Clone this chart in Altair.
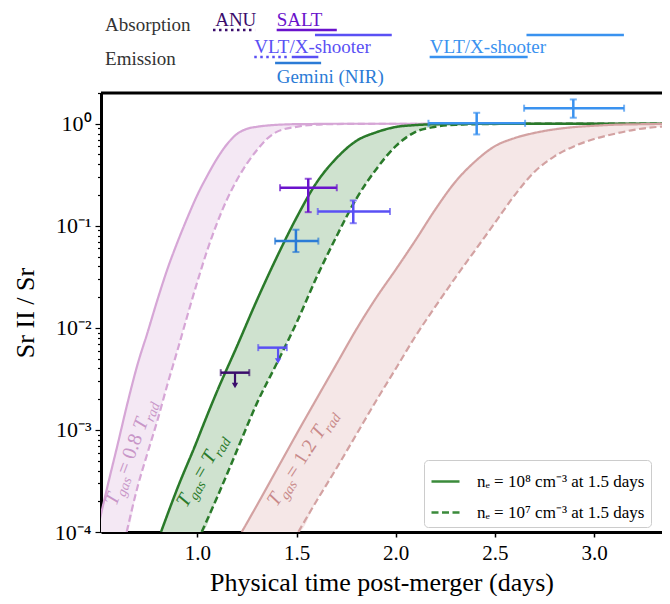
import altair as alt
import pandas as pd

FONT = "Liberation Serif"

# ---------------- axes ----------------
XMIN, XMAX = 0.5146, 3.342
YMIN, YMAX = 1e-4, 2.0
W, H = 561, 439
XTICKS = [1.0, 1.5, 2.0, 2.5, 3.0]
YTICKS = [1e-4, 2e-4, 3e-4, 4e-4, 5e-4, 6e-4, 7e-4, 8e-4, 9e-4,
          1e-3, 2e-3, 3e-3, 4e-3, 5e-3, 6e-3, 7e-3, 8e-3, 9e-3,
          1e-2, 2e-2, 3e-2, 4e-2, 5e-2, 6e-2, 7e-2, 8e-2, 9e-2,
          0.1, 0.2, 0.3, 0.4, 0.5, 0.6, 0.7, 0.8, 0.9, 1.0, 2.0]
YLABELS = {1.0: "10⁰", 0.1: "10⁻¹", 0.01: "10⁻²", 0.001: "10⁻³", 0.0001: "10⁻⁴"}

# ---------------- model bands (days, Sr II / Sr) ----------------
pink_x = [0.50, 0.55, 0.60, 0.644, 0.70, 0.75, 0.80, 0.85, 0.90, 0.95, 1.00, 1.05,
          1.10, 1.15, 1.20, 1.25, 1.30, 1.35, 1.40, 1.50, 1.60, 1.70, 2.00, 3.60]
pink_hi = [1.12e-4, 2.95e-4, 7.41e-4, 1.70e-3, 4.47e-3, 9.12e-3, 1.91e-2, 3.80e-2, 6.92e-2, 0.120, 0.200, 0.309,
           0.457, 0.631, 0.794, 0.891, 0.933, 0.959, 0.975, 0.991, 0.995, 1.0, 1.0, 1.0]
pink_lo = [None, None, None, 1.0e-4, 2.82e-4, 6.03e-4, 1.26e-3, 2.82e-3, 6.03e-3, 1.32e-2, 2.82e-2, 5.75e-2,
           0.107, 0.182, 0.282, 0.407, 0.550, 0.708, 0.832, 0.933, 0.980, 0.993, 1.0, 1.0]

green_x = [0.817, 0.90, 1.00, 1.022, 1.10, 1.20, 1.30, 1.40, 1.50, 1.60, 1.70,
           1.80, 1.90, 2.00, 2.10, 2.20, 2.30, 2.40, 2.60, 3.00, 3.60]
green_hi = [1.0e-4, 2.69e-4, 7.94e-4, 1.02e-3, 2.40e-3, 6.61e-3, 1.86e-2, 4.90e-2, 0.120, 0.263, 0.457,
            0.676, 0.822, 0.929, 0.970, 0.989, 0.995, 0.998, 1.0, 1.0, 1.0]
green_lo = [None, None, None, 1.0e-4, 2.19e-4, 6.31e-4, 1.82e-3, 4.47e-3, 1.12e-2, 3.09e-2, 7.76e-2,
            0.182, 0.355, 0.603, 0.832, 0.933, 0.977, 0.991, 0.998, 1.0, 1.0]

rose_x = [1.224, 1.30, 1.40, 1.509, 1.60, 1.70, 1.80, 1.90, 2.00, 2.10, 2.20, 2.30,
          2.40, 2.50, 2.60, 2.70, 2.80, 2.90, 3.00, 3.10, 3.20, 3.30, 3.40, 3.60]
rose_hi = [1.0e-4, 1.82e-4, 4.07e-4, 9.77e-4, 2.00e-3, 4.37e-3, 9.55e-3, 1.95e-2, 3.72e-2, 7.24e-2, 0.145, 0.269,
           0.427, 0.603, 0.724, 0.813, 0.881, 0.927, 0.955, 0.977, 0.986, 0.993, 0.998, 1.0]
rose_lo = [None, None, None, 1.0e-4, 2.00e-4, 4.17e-4, 8.91e-4, 1.91e-3, 3.98e-3, 8.32e-3, 1.62e-2, 3.09e-2,
           5.75e-2, 0.107, 0.200, 0.339, 0.479, 0.603, 0.708, 0.794, 0.871, 0.923, 0.951, 0.977]

L8 = "nₑ = 10⁸ cm⁻³ at 1.5 days"
L7 = "nₑ = 10⁷ cm⁻³ at 1.5 days"

# ---------------- measurements ----------------
KEYS = ["ANU", "SALT", "VLT early", "Gemini", "VLT late"]
KEY_COLORS = ["#3b0d6c", "#6a12cc", "#5a50f4", "#2b7bd6", "#3a92ef"]

det_key = ["SALT", "VLT early", "Gemini", "VLT late", "VLT late"]
det_x = [1.559, 1.786, 1.497, 2.408, 2.895]
det_xlo = [1.417, 1.607, 1.392, 2.165, 2.647]
det_xhi = [1.703, 1.971, 1.610, 2.652, 3.151]
det_y = [0.236, 0.138, 0.0708, 1.01, 1.42]
det_ylo = [0.136, 0.106, 0.0553, 0.785, 1.145]
det_yhi = [0.289, 0.177, 0.0916, 1.28, 1.73]

ul_key = ["ANU", "VLT early"]
ul_x = [1.190, 1.407]
ul_xlo = [1.118, 1.307]
ul_xhi = [1.262, 1.451]
ul_y = [3.64e-3, 6.4e-3]
ul_tip = [2.73e-3, 4.73e-3]

# coverage segments above the plot
seg_key = ["ANU", "SALT", "VLT early", "VLT late", "VLT early", "VLT early", "VLT late", "Gemini"]
seg_row = ["abs1", "abs1", "abs2", "abs2", "em1", "em1", "em1", "em2"]
seg_x0 = [1.079, 1.400, 1.593, 2.659, 1.287, 1.476, 2.171, 1.392]
seg_x1 = [1.291, 1.703, 1.980, 3.150, 1.467, 1.610, 2.665, 1.624]
seg_dotted = [True, False, False, False, True, False, False, False]

lab_text = ["ANU", "SALT", "VLT/X-shooter", "VLT/X-shooter", "Gemini (NIR)"]
lab_key = ["ANU", "SALT", "VLT early", "VLT late", "Gemini"]
lab_x = [1.090, 1.400, 1.287, 2.171, 1.400]
lab_row = ["t1", "t1", "t2", "t2", "t3"]

head_text = ["Absorption", "Emission"]
head_x = [0.535, 0.535]
head_row = ["h1", "h2"]

# ---------------- styles ----------------
ROW_Y = {"abs1": -63, "abs2": -58, "em1": -36, "em2": -30,
         "t1": -67, "t2": -40, "t3": -10, "h1": -62, "h2": -28}
BAND_LINE = {"pink": "#d6a6d6", "green": "#2a7a2a", "rose": "#d3a2a2"}
BAND_FILL = {"pink": "#f4e8f4", "green": "#cfe2cf", "rose": "#f5e7e7"}
BAND_W = {"pink": 2.2, "green": 2.5, "rose": 2.2}

xs = alt.Scale(domain=[XMIN, XMAX], nice=False, zero=False)
ys = alt.Scale(type="log", domain=[YMIN, YMAX], nice=False)

label_expr = " : ".join(
    f"abs(datum.value - {v}) < {v * 1e-6} ? '{t}'" for v, t in YLABELS.items()
) + " : ''"
decade_test = "abs(log(datum.value) / LN10 - round(log(datum.value) / LN10)) < 0.001"

x_axis = alt.Axis(values=XTICKS, format=".1f", tickSize=5, tickWidth=1.5, domainWidth=3,
                  labelFontSize=21, labelPadding=5, titleFontSize=26, titlePadding=6,
                  labelFlush=False)
y_axis = alt.Axis(values=YTICKS, labelExpr=label_expr,
                  tickSize={"condition": {"test": decade_test, "value": 6}, "value": 3.5},
                  tickWidth=1.2, domainWidth=3, labelFontSize=22, labelPadding=4,
                  labelOverlap=False, titleFontSize=26, titleX=-63, titleY=H / 2)


def X(f):
    return alt.X(f, type="quantitative", scale=xs, axis=x_axis,
                 title="Physical time post-merger (days)")


def Y(f):
    return alt.Y(f, type="quantitative", scale=ys, axis=y_axis, title="Sr II / Sr")


dash_scale = alt.Scale(domain=[L8, L7], range=[[1, 0], [7, 3.5]])
legend = alt.Legend(title=None, orient="none", legendX=323, legendY=367,
                    symbolType="stroke", symbolStrokeColor="#3b8b3b", symbolStrokeWidth=2.5,
                    symbolSize=784, labelFont=FONT, labelFontSize=17, labelColor="black",
                    labelLimit=400, fillColor="white", strokeColor="#cccccc",
                    cornerRadius=4, padding=6, rowPadding=7, labelOffset=16)

layers = []
bands = {"pink": (pink_x, pink_hi, pink_lo), "green": (green_x, green_hi, green_lo),
         "rose": (rose_x, rose_hi, rose_lo)}

for name, (bx, bhi, blo) in bands.items():
    area_df = pd.DataFrame({"x": bx, "hi": bhi,
                            "lo": [v if v is not None else YMIN for v in blo]})
    layers.append(alt.Chart(area_df).mark_area(color=BAND_FILL[name], opacity=1, clip=True,
                                               interpolate="monotone")
                  .encode(x=X("x"), y=Y("hi"), y2=alt.Y2("lo")))

for name, (bx, bhi, blo) in bands.items():
    rows = [{"x": a, "y": b, "dens": L8} for a, b in zip(bx, bhi)]
    rows += [{"x": a, "y": b, "dens": L7} for a, b in zip(bx, blo) if b is not None]
    line_df = pd.DataFrame(rows)
    layers.append(alt.Chart(line_df).mark_line(color=BAND_LINE[name], strokeWidth=BAND_W[name],
                                               clip=True, interpolate="monotone")
                  .encode(x=X("x"), y=Y("y"),
                          strokeDash=alt.StrokeDash("dens:N", scale=dash_scale, legend=legend)))

# top frame
layers.append(alt.Chart(pd.DataFrame({"v": [YMAX]})).mark_rule(color="black", strokeWidth=3)
              .encode(y=Y("v")))

color = alt.Color("key:N", scale=alt.Scale(domain=KEYS, range=KEY_COLORS), legend=None)

det_df = pd.DataFrame({"key": det_key, "x": det_x, "xlo": det_xlo, "xhi": det_xhi,
                       "y": det_y, "ylo": det_ylo, "yhi": det_yhi})
db = alt.Chart(det_df)
layers += [
    db.mark_rule(strokeWidth=2.5).encode(x=X("xlo"), x2=alt.X2("xhi"), y=Y("y"), color=color),
    db.mark_rule(strokeWidth=2.5).encode(x=X("x"), y=Y("ylo"), y2=alt.Y2("yhi"), color=color),
    db.transform_fold(["xlo", "xhi"], as_=["end", "xe"])
      .mark_tick(orient="vertical", size=7, thickness=2)
      .encode(x=X("xe"), y=Y("y"), color=color),
    db.transform_fold(["ylo", "yhi"], as_=["end", "ye"])
      .mark_tick(orient="horizontal", size=7, thickness=2)
      .encode(x=X("x"), y=Y("ye"), color=color),
]

ul_df = pd.DataFrame({"key": ul_key, "x": ul_x, "xlo": ul_xlo, "xhi": ul_xhi,
                      "y": ul_y, "tip": ul_tip})
ub = alt.Chart(ul_df)
layers += [
    ub.mark_rule(strokeWidth=2.5).encode(x=X("xlo"), x2=alt.X2("xhi"), y=Y("y"), color=color),
    ub.transform_fold(["xlo", "xhi"], as_=["end", "xe"])
      .mark_tick(orient="vertical", size=7, thickness=2)
      .encode(x=X("xe"), y=Y("y"), color=color),
    ub.mark_rule(strokeWidth=2.2).encode(x=X("x"), y=Y("y"), y2=alt.Y2("tip"), color=color),
    ub.mark_point(shape="triangle-down", filled=True, size=40, opacity=1)
      .encode(x=X("x"), y=Y("tip"), color=color),
]

# coverage segments and instrument labels above the axes
seg_df = pd.DataFrame({"key": seg_key, "row": seg_row, "x0": seg_x0, "x1": seg_x1,
                       "dotted": seg_dotted})
for r in ["abs1", "abs2", "em1", "em2"]:
    for dotted in [False, True]:
        sub = seg_df[(seg_df.row == r) & (seg_df.dotted == dotted)]
        if len(sub) == 0:
            continue
        props = dict(strokeWidth=2.5, strokeCap="butt")
        if dotted:
            props["strokeDash"] = [2.5, 3.5]
        layers.append(alt.Chart(sub).mark_rule(**props)
                      .encode(x=X("x0"), x2=alt.X2("x1"), y=alt.value(ROW_Y[r]), color=color))

lab_df = pd.DataFrame({"text": lab_text, "key": lab_key, "x": lab_x, "row": lab_row})
for r in ["t1", "t2", "t3"]:
    layers.append(alt.Chart(lab_df[lab_df.row == r])
                  .mark_text(align="left", baseline="alphabetic", font=FONT, fontSize=19)
                  .encode(x=X("x"), y=alt.value(ROW_Y[r]), text="text:N", color=color))

head_df = pd.DataFrame({"text": head_text, "x": head_x, "row": head_row})
for r in ["h1", "h2"]:
    layers.append(alt.Chart(head_df[head_df.row == r])
                  .mark_text(align="left", baseline="alphabetic", font=FONT, fontSize=19,
                             color="#333333")
                  .encode(x=X("x"), y=alt.value(ROW_Y[r]), text="text:N"))

# rotated band labels: T_gas = k T_rad
rot_labels = [
    {"x": 0.592, "y": 1.78e-4, "angle": 290.6, "color": "#c896c8", "k": "= 0.8", "t2": 80},
    {"x": 0.945, "y": 1.70e-4, "angle": 300.0, "color": "#2a7a2a", "k": "=", "t2": 50},
    {"x": 1.400, "y": 1.74e-4, "angle": 303.0, "color": "#c98a8a", "k": "= 1.2", "t2": 80},
]
for lab in rot_labels:
    d = pd.DataFrame({"x": [lab["x"]], "y": [lab["y"]]})
    pieces = [("T", 0, 0, 20, "italic"), ("gas", 11.5, 5, 14, "italic"),
              (lab["k"], 33, 0, 20, "normal"), ("T", lab["t2"], 0, 20, "italic"),
              ("rad", lab["t2"] + 11.5, 5, 14, "italic")]
    for txt, dx, dy, fs, st in pieces:
        layers.append(alt.Chart(d).mark_text(text=txt, align="left", baseline="alphabetic",
                                             angle=lab["angle"], dx=dx, dy=dy, font=FONT,
                                             fontSize=fs, fontStyle=st, color=lab["color"])
                      .encode(x=X("x"), y=Y("y")))

chart = (alt.layer(*layers)
         .properties(width=W, height=H, autosize=alt.AutoSizeParams(type="none"),
                     padding={"left": 93, "top": 85, "right": 0, "bottom": 64})
         .configure_view(stroke=None)
         .configure_axis(grid=False, labelFont=FONT, titleFont=FONT, labelColor="black",
                         titleColor="black", domainColor="black", tickColor="black",
                         titleFontWeight="normal"))

chart.save("out.html", embed_options={"renderer": "svg", "actions": False})
